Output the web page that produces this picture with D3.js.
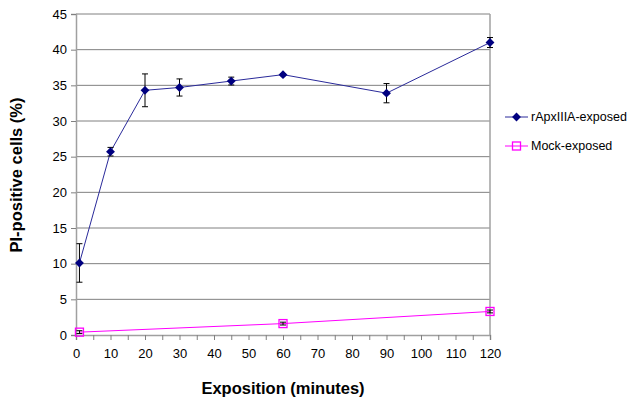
<!DOCTYPE html>
<html><head><meta charset="utf-8">
<script src="https://cdn.jsdelivr.net/npm/d3@7"></script>
<style>body{margin:0;background:#fff;} text{font-family:"Liberation Sans",Arial,sans-serif;}</style>
</head><body>
<svg id="c" width="632" height="404"></svg>
<script>
const minutes = [1, 10, 20, 30, 45, 60, 90, 120];
const rApx = [10.1, 25.7, 34.3, 34.7, 35.6, 36.5, 33.9, 41.0];
const rApxErr = [2.7, 0.6, 2.3, 1.2, 0.55, 0.15, 1.35, 0.7];
const mockMinutes = [1, 60, 120];
const mock = [0.4, 1.6, 3.3];
const mockErr = [0.2, 0.2, 0.2];
const yTicks = [0, 5, 10, 15, 20, 25, 30, 35, 40, 45];
const xTicks = [0, 10, 20, 30, 40, 50, 60, 70, 80, 90, 100, 110, 120];
const seriesNames = ["rApxIIIA-exposed", "Mock-exposed"];

const svg = d3.select("#c");
const L = 76, R = 490, T = 14, B = 335;
const x = d3.scaleLinear().domain([0, 120]).range([L, R]);
const y = d3.scaleLinear().domain([0, 45]).range([B, T]);

// gridlines
svg.append("g").selectAll("line").data(yTicks.filter(d => d > 0)).join("line")
  .attr("x1", L).attr("x2", R).attr("y1", d => y(d)).attr("y2", d => y(d))
  .attr("stroke", "#808080").attr("stroke-width", 1);
// right border
svg.append("line").attr("x1", R).attr("x2", R).attr("y1", T).attr("y2", B)
  .attr("stroke", "#a0a0a0").attr("stroke-width", 1.5);

// axes
const yAxis = d3.axisLeft(y).tickValues(yTicks).tickSize(5).tickPadding(4);
const gy = svg.append("g").attr("transform", `translate(${L},0)`).call(yAxis);
const xAxis = d3.axisBottom(x).tickValues(d3.range(0, 121, 5)).tickSize(5).tickPadding(9)
  .tickFormat(d => xTicks.includes(d) ? d : "");
const gx = svg.append("g").attr("transform", `translate(0,${B})`).call(xAxis);
[gx, gy].forEach(g => {
  g.select(".domain").attr("stroke", "#a0a0a0").attr("stroke-width", 1.5);
  g.selectAll(".tick line").attr("stroke", "#808080");
  g.selectAll("text").attr("font-size", 13).attr("fill", "#000")
    .style("font-family", "Liberation Sans, Arial, sans-serif");
});

// mock series
const mockData = mockMinutes.map((m, i) => ({m, v: mock[i], e: mockErr[i]}));
svg.append("path").datum(mockData)
  .attr("d", d3.line().x(d => x(d.m)).y(d => y(d.v)))
  .attr("fill", "none").attr("stroke", "#ff00ff").attr("stroke-width", 1);
const me = svg.append("g").selectAll("g").data(mockData).join("g");
me.append("line").attr("x1", d => x(d.m)).attr("x2", d => x(d.m))
  .attr("y1", d => y(d.v + d.e)).attr("y2", d => y(d.v - d.e)).attr("stroke", "#000");
me.append("line").attr("x1", d => x(d.m) - 3).attr("x2", d => x(d.m) + 3)
  .attr("y1", d => y(d.v + d.e)).attr("y2", d => y(d.v + d.e)).attr("stroke", "#000");
me.append("line").attr("x1", d => x(d.m) - 3).attr("x2", d => x(d.m) + 3)
  .attr("y1", d => y(d.v - d.e)).attr("y2", d => y(d.v - d.e)).attr("stroke", "#000");
me.append("rect").attr("x", d => x(d.m) - 4).attr("y", d => y(d.v) - 4)
  .attr("width", 8).attr("height", 8).attr("fill", "none").attr("stroke", "#ff00ff").attr("stroke-width", 1.3);

// rApx series
const data = minutes.map((m, i) => ({m, v: rApx[i], e: rApxErr[i]}));
svg.append("path").datum(data)
  .attr("d", d3.line().x(d => x(d.m)).y(d => y(d.v)))
  .attr("fill", "none").attr("stroke", "#2a2a9a").attr("stroke-width", 1);
const eg = svg.append("g").selectAll("g").data(data).join("g");
eg.append("line").attr("x1", d => x(d.m)).attr("x2", d => x(d.m))
  .attr("y1", d => y(d.v + d.e)).attr("y2", d => y(d.v - d.e)).attr("stroke", "#000");
eg.append("line").attr("x1", d => x(d.m) - 3).attr("x2", d => x(d.m) + 3)
  .attr("y1", d => y(d.v + d.e)).attr("y2", d => y(d.v + d.e)).attr("stroke", "#000");
eg.append("line").attr("x1", d => x(d.m) - 3).attr("x2", d => x(d.m) + 3)
  .attr("y1", d => y(d.v - d.e)).attr("y2", d => y(d.v - d.e)).attr("stroke", "#000");
const diamond = d3.symbol().type(d3.symbolDiamond2).size(50);
eg.append("path").attr("d", diamond)
  .attr("transform", d => `translate(${x(d.m)},${y(d.v)})`).attr("fill", "#000080");

// legend
const lg = svg.append("g");
const ly = [117, 146];
lg.append("line").attr("x1", 505).attr("x2", 528).attr("y1", ly[0]).attr("y2", ly[0]).attr("stroke", "#2a2a9a");
lg.append("path").attr("d", diamond).attr("transform", `translate(516.5,${ly[0]})`).attr("fill", "#000080");
lg.append("line").attr("x1", 505).attr("x2", 528).attr("y1", ly[1]).attr("y2", ly[1]).attr("stroke", "#ff00ff");
lg.append("rect").attr("x", 512.5).attr("y", ly[1] - 4).attr("width", 8).attr("height", 8)
  .attr("fill", "none").attr("stroke", "#ff00ff").attr("stroke-width", 1.3);
lg.selectAll("text").data(seriesNames).join("text")
  .attr("x", 531).attr("y", (d, i) => ly[i]).attr("dy", "0.35em")
  .attr("font-size", 12.5).text(d => d);

// titles
svg.append("text").attr("transform", "translate(22,175) rotate(-90)")
  .attr("text-anchor", "middle").attr("font-weight", "bold").attr("font-size", 16.5)
  .text("PI-positive cells (%)");
svg.append("text").attr("x", 283).attr("y", 394).attr("text-anchor", "middle")
  .attr("font-weight", "bold").attr("font-size", 16.5).text("Exposition (minutes)");
</script>
</body></html>
